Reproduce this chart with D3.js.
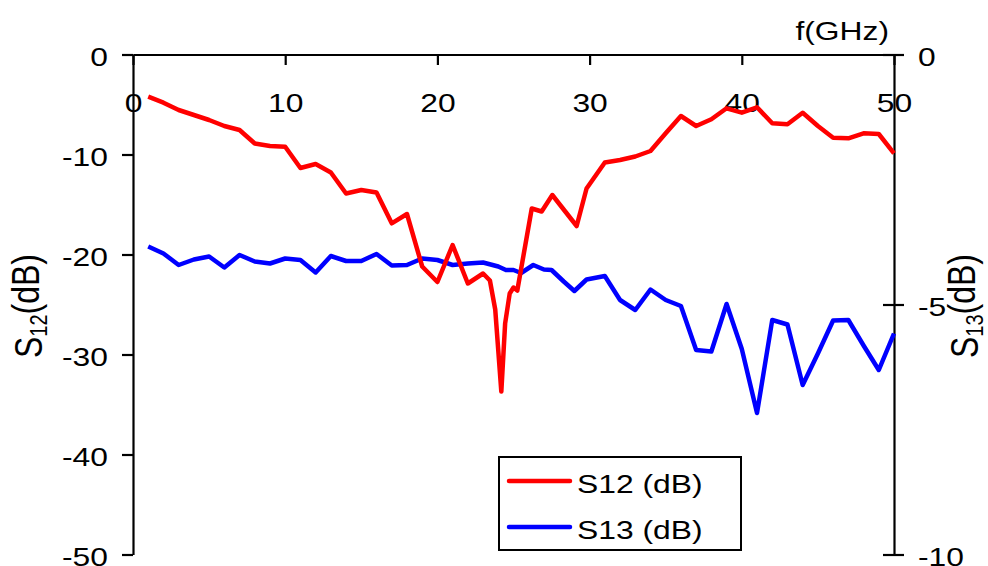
<!DOCTYPE html>
<html>
<head>
<meta charset="utf-8">
<script src="https://cdn.jsdelivr.net/npm/d3@7"></script>
<style>
  html, body { margin: 0; padding: 0; background: #fff; }
  svg { display: block; }
  text { font-family: "Liberation Sans", Arial, Helvetica, sans-serif; fill: #000; }
</style>
</head>
<body>
<svg id="chart" width="988" height="566"></svg>
<script>
// S12 transmission (left axis, dB) versus frequency (GHz)
const s12Freq = [1,2,3,4,5,6,7,8,9,10,11,12,13,14,15,16,17,18,19,20,21,22,23,
  23.45,23.8,24.2,24.45,24.75,25,25.25,26.2,26.85,27.55,28.4,29.15,29.8,
  31,32,33,34,35,36,37,38,39,40,41,42,43,44,45,46,47,48,49,50];
const s12Values = [-4.22,-4.82,-5.55,-6.05,-6.55,-7.15,-7.55,-8.9,-9.15,-9.22,
  -11.35,-10.95,-11.8,-13.9,-13.55,-13.8,-16.88,-15.95,-21.2,-22.75,
  -19.05,-22.9,-21.9,
  -22.6,-25.5,-33.7,-26.9,-23.9,-23.3,-23.6,-15.4,-15.7,-14.05,-15.7,-17.15,-13.4,
  -10.8,-10.55,-10.2,-9.65,-7.88,-6.15,-7.15,-6.48,-5.38,-5.82,
  -5.28,-6.88,-6.98,-5.82,-7.15,-8.32,-8.38,-7.88,-7.95,-9.88];

// S13 coupling (right axis, dB) versus frequency (GHz)
const s13Freq = [1,2,3,4,5,6,7,8,9,10,11,12,13,14,15,16,17,18,19,20,21,22,23,
  24,24.5,25,25.5,26.3,27,27.5,28.3,29,29.8,
  31,32,33,34,35,36,37,38,39,40,41,42,43,44,45,46,47,48,49,50];
const s13Values = [-3.84,-3.98,-4.21,-4.10,-4.04,-4.26,-4.01,-4.14,-4.18,-4.08,
  -4.11,-4.36,-4.03,-4.13,-4.13,-3.99,-4.22,-4.21,-4.08,-4.11,
  -4.21,-4.18,-4.16,
  -4.24,-4.31,-4.31,-4.37,-4.21,-4.30,-4.31,-4.54,-4.73,-4.50,
  -4.43,-4.91,-5.11,-4.70,-4.91,-5.03,-5.91,-5.94,-4.99,-5.89,
  -7.17,-5.31,-5.40,-6.61,-5.98,-5.32,-5.31,-5.82,-6.31,-5.58];

const freqTicks = [0,10,20,30,40,50];
const s12Ticks = [0,-10,-20,-30,-40,-50];
const s13Ticks = [0,-5,-10];
const seriesNames = ["S12 (dB)", "S13 (dB)"];
const seriesColors = ["#ff0000", "#0000ff"];

const STRETCH = 1.2;      // labels are set slightly wide
const TICK_FONT = 26.5;
const TITLE_FONT = 32;

const svg = d3.select("#chart");

const x = d3.scaleLinear().domain([0, 50]).range([133, 894]);
const yL = d3.scaleLinear().domain([-50, 0]).range([554.5, 54.5]);
const yR = d3.scaleLinear().domain([-10, 0]).range([554.5, 54.5]);

function styleAxis(g) {
  g.select(".domain").attr("stroke", "#000").attr("stroke-width", 2.2);
  g.selectAll(".tick line").attr("stroke", "#000").attr("stroke-width", 2.2);
  g.selectAll(".tick text")
    .attr("x", null).attr("y", null).attr("dy", null)
    .attr("fill", "#000")
    .style("font-size", TICK_FONT + "px");
}

// Left axis: S12
const gL = svg.append("g")
  .attr("transform", `translate(${x(0)},0)`)
  .call(d3.axisLeft(yL).tickValues(s12Ticks).tickSize(11).tickSizeOuter(0)
    .tickFormat(d => String(d)));
styleAxis(gL);
gL.selectAll(".tick text")
  .attr("text-anchor", "end")
  .attr("transform", `translate(-25,10.5) scale(${STRETCH},1)`);

// Right axis: S13 (ticks cross the axis line)
const gR = svg.append("g")
  .attr("transform", `translate(${x(50)},0)`)
  .call(d3.axisRight(yR).tickValues(s13Ticks).tickSize(10).tickSizeOuter(0)
    .tickFormat(d => String(d)));
styleAxis(gR);
gR.selectAll(".tick line").attr("x1", -11).attr("x2", 10);
gR.selectAll(".tick text")
  .attr("text-anchor", "start")
  .attr("transform", `translate(24,10.5) scale(${STRETCH},1)`);

// Frequency axis along the 0 dB line, ticks pointing inward
const gX = svg.append("g")
  .attr("transform", `translate(0,${yL(0)})`)
  .call(d3.axisBottom(x).tickValues(freqTicks).tickSize(10.5).tickSizeOuter(0)
    .tickFormat(d => String(d)));
styleAxis(gX);
gX.selectAll(".tick text")
  .attr("text-anchor", "middle")
  .attr("transform", `translate(0,57.5) scale(${STRETCH},1)`);

// Axis titles
svg.append("text")
  .attr("text-anchor", "end")
  .attr("transform", `translate(889,39.5) scale(${STRETCH},1)`)
  .style("font-size", TICK_FONT + "px")
  .text("f(GHz)");

function axisTitle(cx, cy, sub) {
  const t = svg.append("text")
    .attr("text-anchor", "middle")
    .attr("transform", `translate(${cx},${cy}) scale(${STRETCH},1) rotate(-90)`)
    .style("font-size", TITLE_FONT + "px");
  t.append("tspan").text("S");
  t.append("tspan").attr("dy", "0.22em").style("font-size", "20px").text(sub);
  t.append("tspan").attr("dy", "-0.22em").text("(dB)");
}
axisTitle(42, 306, "12");
axisTitle(978, 306, "13");

// Data lines
const lineL = d3.line().x(d => x(d[0])).y(d => yL(d[1]));
const lineR = d3.line().x(d => x(d[0])).y(d => yR(d[1]));

svg.append("path")
  .datum(d3.zip(s13Freq, s13Values))
  .attr("fill", "none")
  .attr("stroke", seriesColors[1])
  .attr("stroke-width", 4.5)
  .attr("stroke-linejoin", "round")
  .attr("d", lineR);

svg.append("path")
  .datum(d3.zip(s12Freq, s12Values))
  .attr("fill", "none")
  .attr("stroke", seriesColors[0])
  .attr("stroke-width", 4.5)
  .attr("stroke-linejoin", "round")
  .attr("d", lineL);

// Legend
const legend = svg.append("g").attr("transform", "translate(499,457)");
legend.append("rect")
  .attr("width", 242).attr("height", 93)
  .attr("fill", "#fff").attr("stroke", "#000").attr("stroke-width", 2);
const items = legend.selectAll("g.item").data(seriesNames).join("g")
  .attr("class", "item")
  .attr("transform", (d, i) => `translate(0,${24 + i * 46})`);
items.append("line")
  .attr("x1", 10).attr("x2", 71)
  .attr("stroke", (d, i) => seriesColors[i])
  .attr("stroke-width", 4.5)
  .attr("stroke-linecap", "round");
items.append("text")
  .attr("transform", `translate(78,12) scale(${STRETCH},1)`)
  .style("font-size", TICK_FONT + "px")
  .text(d => d);
</script>
</body>
</html>
